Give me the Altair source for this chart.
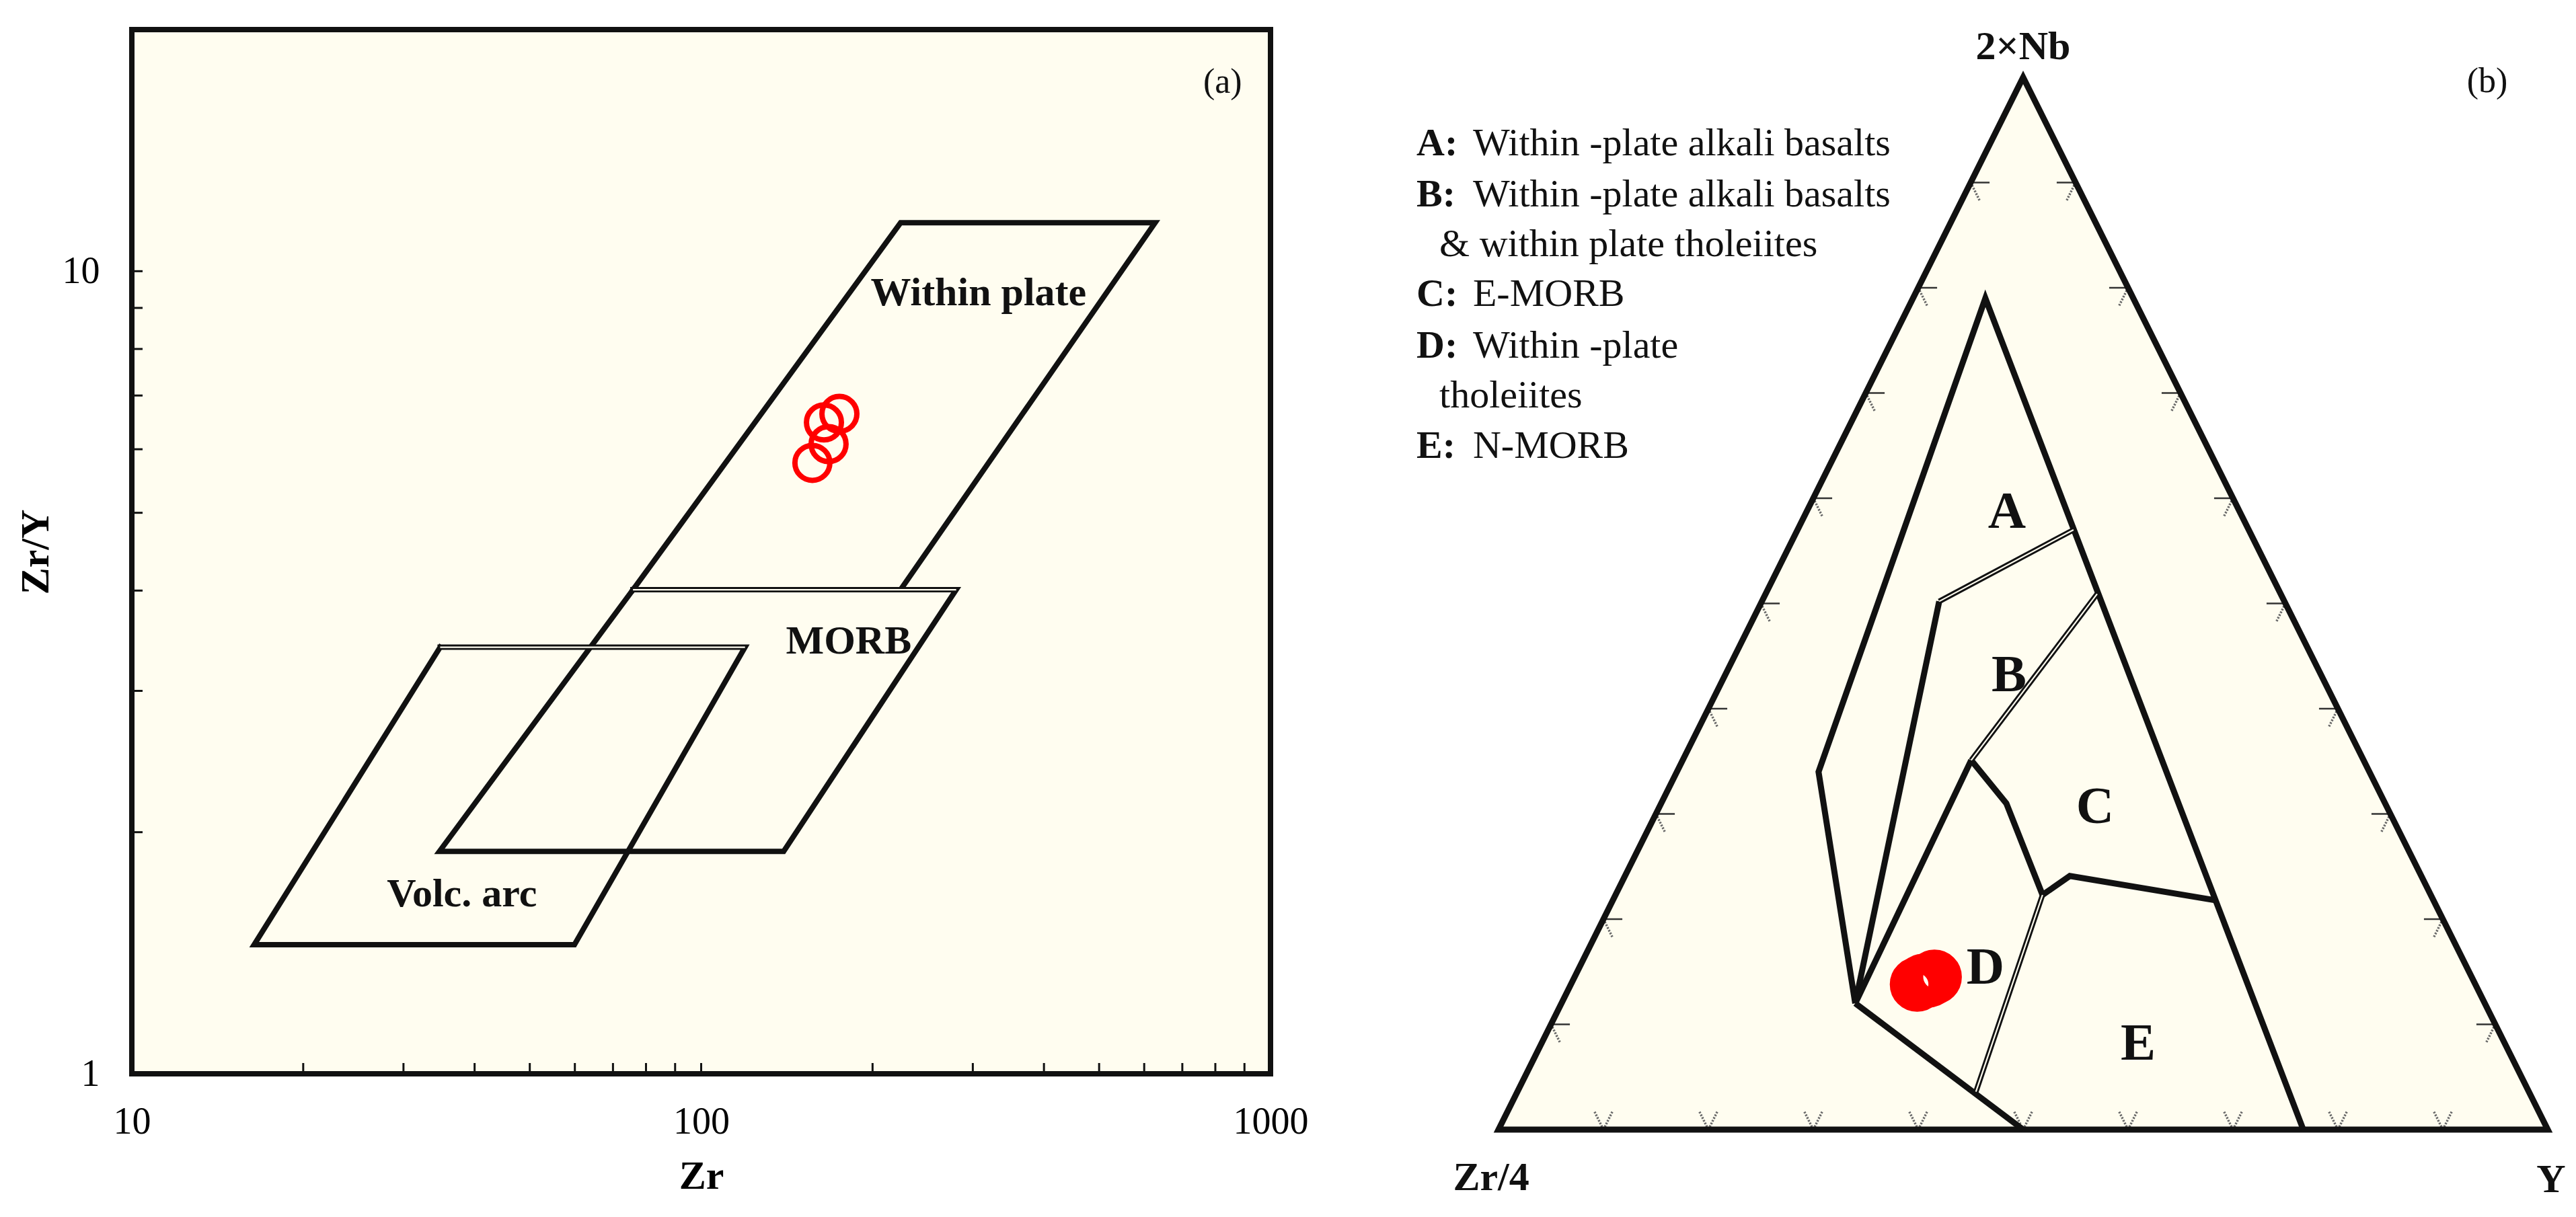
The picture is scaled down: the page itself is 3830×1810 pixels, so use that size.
import altair as alt
import pandas as pd

CREAM = "#FFFDF0"
INK = "#111111"
SERIF = "Liberation Serif"

# ---------------- Panel (a): Zr/Y vs Zr (log-log) ----------------
within_zr = [75.9, 224.0, 627.0, 224.0]
within_zry = [4.01, 11.49, 11.49, 4.01]
morb_zr = [75.9, 280.5, 139.6, 34.7]
morb_zry = [4.01, 4.01, 1.893, 1.893]
arc_zr = [34.8, 119.4, 59.9, 16.4]
arc_zry = [3.40, 3.40, 1.448, 1.448]

sample_zr = [174.9, 164.3, 167.4, 156.8]
sample_zry = [6.64, 6.48, 6.09, 5.77]

field_names_a = ["Within plate", "MORB", "Volc. arc"]
field_label_zr = [307.0, 181.6, 38.0]
field_label_zry = [9.39, 3.46, 1.673]

x_labels_a = [10, 100, 1000]
y_labels_a = [1, 10]
x_minor_a = [20, 30, 40, 50, 60, 70, 80, 90, 100, 200, 300, 400, 500, 600, 700, 800, 900]
y_minor_a = [2, 3, 4, 5, 6, 7, 8, 9, 10]

# ---------------- Panel (b): 2Nb - Zr/4 - Y ternary ----------------
node_names = ["P1", "P2", "P3", "P4", "P5", "P6", "P7", "P8", "P9", "P10", "P11", "P12", "P13", "P14"]
node_nb2 = [79.0, 34.0, 12.0, 0.0, 0.0, 57.0, 50.2, 50.9, 35.1, 31.0, 22.3, 24.1, 21.8, 3.6]
node_zr4 = [14.1, 52.5, 60.0, 50.0, 23.3, 16.7, 32.9, 17.5, 37.4, 36.1, 37.0, 33.5, 20.8, 52.7]
node_y = [6.9, 13.5, 28.0, 50.0, 76.7, 26.3, 16.9, 31.6, 27.5, 32.9, 40.7, 42.4, 57.4, 43.7]

thick_paths = [
    ["P3", "P2", "P1", "P5"],
    ["P7", "P3"],
    ["P9", "P3"],
    ["P9", "P10", "P11", "P12", "P13"],
    ["P3", "P4"],
]
double_paths = [["P6", "P7"], ["P8", "P9"], ["P11", "P14"]]

sample_nb2 = [13.8, 14.1, 14.2, 14.5]
sample_zr4 = [53.2, 52.5, 51.9, 51.2]
sample_y = [33.0, 33.4, 33.9, 34.3]

field_letters_b = ["A", "B", "C", "D", "E"]
field_letter_u = [0.4846, 0.4865, 0.5686, 0.4641, 0.6096]
field_letter_v = [0.5866, 0.4313, 0.3061, 0.1534, 0.0812]

legend_keys = ["A:", "B:", "C:", "D:", "E:"]
legend_key_v = [0.9259, 0.8773, 0.7827, 0.7335, 0.6383]
legend_lines = ["Within -plate alkali basalts", "Within -plate alkali basalts",
                "& within plate tholeiites", "E-MORB", "Within -plate", "tholeiites", "N-MORB"]
legend_line_v = [0.9259, 0.8773, 0.8300, 0.7827, 0.7335, 0.6863, 0.6383]
legend_line_indent = [False, False, True, False, False, True, False]

vertex_names = ["2×Nb", "Zr/4", "Y"]
vertex_u = [0.5, -0.007, 1.0032]
vertex_v = [1.0288, -0.046, -0.048]

tick_fracs = [0.1, 0.2, 0.3, 0.4, 0.5, 0.6, 0.7, 0.8, 0.9]
TICK_LEN = 0.018


def tern(nb2, zr4, y):
    s = nb2 + zr4 + y
    a = nb2 / s
    c = y / s
    return c + a / 2.0, a


# ---------------- scales (pixel layout) ----------------
A_W, A_H = 1693, 1553
XA = alt.Scale(type="log", domain=[10, 1000], range=[0, A_W], nice=False)
YA = alt.Scale(type="log", domain=[1, 20], range=[A_H, 0], nice=False)
XB = alt.Scale(domain=[0, 1], range=[2032, 3592], nice=False, zero=False)
YB = alt.Scale(domain=[0, 1], range=[1636, 71], nice=False, zero=False)


def xa(f):
    return alt.X(f"{f}:Q", scale=XA, axis=None)


def ya(f):
    return alt.Y(f"{f}:Q", scale=YA, axis=None)


def xb(f):
    return alt.X(f"{f}:Q", scale=XB, axis=None)


def yb(f):
    return alt.Y(f"{f}:Q", scale=YB, axis=None)


# ---------------- Panel (a) layers ----------------
frame_df = pd.DataFrame({"x": [10], "x2": [1000], "y": [1], "y2": [20]})
frame = alt.Chart(frame_df).mark_rect(
    fill=CREAM, stroke=INK, strokeWidth=8, strokeJoin="miter"
).encode(
    x=alt.X("x:Q", scale=XA, axis=alt.Axis(
        values=x_labels_a, format="d", ticks=False, domain=False, grid=False,
        labelFont=SERIF, labelFontSize=56, labelColor="black", labelPadding=44,
        labelFlush=False, labelOverlap=False,
        title="Zr", titleFont=SERIF, titleFontSize=60, titleFontWeight="bold",
        titleColor="black", titlePadding=24)),
    x2="x2",
    y=alt.Y("y:Q", scale=YA, axis=alt.Axis(
        values=y_labels_a, format="d", ticks=False, domain=False, grid=False,
        labelFont=SERIF, labelFontSize=56, labelColor="black", labelPadding=48,
        labelFlush=False, labelOverlap=False,
        title="Zr/Y", titleFont=SERIF, titleFontSize=60, titleFontWeight="bold",
        titleColor="black", titlePadding=8)),
    y2="y2",
)

xt_df = pd.DataFrame({"v": x_minor_a})
x_ticks = alt.Chart(xt_df).mark_rule(color=INK, strokeWidth=3).encode(
    x=xa("v"), y=alt.value(A_H), y2=alt.value(A_H - 16))
yt_df = pd.DataFrame({"v": y_minor_a})
y_ticks = alt.Chart(yt_df).mark_rule(color=INK, strokeWidth=3).encode(
    y=ya("v"), x=alt.value(0), x2=alt.value(16))

rows = []
for name, zs, rs in [("Within plate", within_zr, within_zry),
                     ("MORB", morb_zr, morb_zry),
                     ("Volc. arc", arc_zr, arc_zry)]:
    for i, (z, r) in enumerate(list(zip(zs, rs)) + [(zs[0], rs[0])]):
        rows.append({"poly": name, "i": i, "zr": z, "zry": r})
poly_df = pd.DataFrame(rows)
polys_a = alt.Chart(poly_df).mark_line(
    color=INK, strokeWidth=8, strokeJoin="miter", strokeCap="square"
).encode(x=xa("zr"), y=ya("zry"), detail="poly:N", order="i:Q")

dbl_rows = []
for name, zs, rs in [("MORB", morb_zr, morb_zry), ("Volc. arc", arc_zr, arc_zry)]:
    dbl_rows.append({"seg": name, "i": 0, "zr": zs[0], "zry": rs[0]})
    dbl_rows.append({"seg": name, "i": 1, "zr": zs[1], "zry": rs[1]})
dbl_a_df = pd.DataFrame(dbl_rows)
dbl_a = alt.Chart(dbl_a_df).mark_line(color=CREAM, strokeWidth=2.2).encode(
    x=xa("zr"), y=ya("zry"), detail="seg:N", order="i:Q")

samp_a_df = pd.DataFrame({"zr": sample_zr, "zry": sample_zry})
samples_a = alt.Chart(samp_a_df).mark_point(
    shape="circle", filled=False, color="#FF0000", strokeWidth=8, size=2700, opacity=1
).encode(x=xa("zr"), y=ya("zry"))

lab_a_df = pd.DataFrame({"zr": field_label_zr, "zry": field_label_zry, "t": field_names_a})
labels_a = alt.Chart(lab_a_df).mark_text(
    font=SERIF, fontSize=60, fontWeight="bold", color=INK, align="center", baseline="middle"
).encode(x=xa("zr"), y=ya("zry"), text="t:N")

tag_a_df = pd.DataFrame({"zr": [824], "zry": [17.2], "t": ["(a)"]})
tag_a = alt.Chart(tag_a_df).mark_text(
    font=SERIF, fontSize=52, color=INK, align="center", baseline="middle"
).encode(x=xa("zr"), y=ya("zry"), text="t:N")

# ---------------- Panel (b) layers ----------------
tri_fill_df = pd.DataFrame({"u": [0.0, 0.5, 1.0], "v": [0.0, 1.0, 0.0], "v0": [0.0, 0.0, 0.0]})
tri_fill = alt.Chart(tri_fill_df).mark_area(color=CREAM, opacity=1).encode(
    x=xb("u"), y=yb("v"), y2="v0")

tick_rows = []
L = TICK_LEN
for f in tick_fracs:
    # left side (Y = 0)
    u0, v0 = tern(f, 1 - f, 0)
    u1, v1 = tern(f, 1 - f - L, L)
    tick_rows.append({"u": u0, "v": v0, "u2": u1, "v2": v1, "k": "solid"})
    u1, v1 = tern(f - L, 1 - f, L)
    tick_rows.append({"u": u0, "v": v0, "u2": u1, "v2": v1, "k": "hatch"})
    # base (2Nb = 0)
    u0, v0 = tern(0, 1 - f, f)
    u1, v1 = tern(L, 1 - f - L, f)
    tick_rows.append({"u": u0, "v": v0, "u2": u1, "v2": v1, "k": "hatch"})
    u1, v1 = tern(L, 1 - f, f - L)
    tick_rows.append({"u": u0, "v": v0, "u2": u1, "v2": v1, "k": "hatch"})
    # right side (Zr/4 = 0)
    u0, v0 = tern(f, 0, 1 - f)
    u1, v1 = tern(f, L, 1 - f - L)
    tick_rows.append({"u": u0, "v": v0, "u2": u1, "v2": v1, "k": "solid"})
    u1, v1 = tern(f - L, L, 1 - f)
    tick_rows.append({"u": u0, "v": v0, "u2": u1, "v2": v1, "k": "hatch"})
tick_df = pd.DataFrame(tick_rows)
ticks_solid = alt.Chart(tick_df[tick_df.k == "solid"]).mark_rule(
    color="#333333", strokeWidth=2.5).encode(x=xb("u"), y=yb("v"), x2="u2", y2="v2")
ticks_hatch = alt.Chart(tick_df[tick_df.k == "hatch"]).mark_rule(
    color="#6a6a6a", strokeWidth=3.5, strokeDash=[2.5, 2]).encode(
    x=xb("u"), y=yb("v"), x2="u2", y2="v2")

tri_df = pd.DataFrame({"u": [0.0, 0.5, 1.0, 0.0, 0.5], "v": [0.0, 1.0, 0.0, 0.0, 1.0],
                       "i": [0, 1, 2, 3, 4]})
tri_outline = alt.Chart(tri_df).mark_line(
    color=INK, strokeWidth=9, strokeJoin="miter").encode(
    x=xb("u"), y=yb("v"), order="i:Q")

nodes = {n: tern(a, b, c) for n, a, b, c in zip(node_names, node_nb2, node_zr4, node_y)}


def path_df(paths):
    rr = []
    for pi, p in enumerate(paths):
        for j, n in enumerate(p):
            rr.append({"seg": pi, "i": j, "u": nodes[n][0], "v": nodes[n][1]})
    return pd.DataFrame(rr)


thick_b = alt.Chart(path_df(thick_paths)).mark_line(
    color=INK, strokeWidth=9, strokeJoin="miter").encode(
    x=xb("u"), y=yb("v"), detail="seg:N", order="i:Q")
dbl_df = path_df(double_paths)
dbl_b_black = alt.Chart(dbl_df).mark_line(color=INK, strokeWidth=8).encode(
    x=xb("u"), y=yb("v"), detail="seg:N", order="i:Q")
dbl_b_cream = alt.Chart(dbl_df).mark_line(color=CREAM, strokeWidth=2.2).encode(
    x=xb("u"), y=yb("v"), detail="seg:N", order="i:Q")

samp_b = [tern(a, b, c) for a, b, c in zip(sample_nb2, sample_zr4, sample_y)]
samp_b_df = pd.DataFrame({"u": [p[0] for p in samp_b], "v": [p[1] for p in samp_b]})
samples_b = alt.Chart(samp_b_df).mark_point(
    shape="circle", filled=False, color="#FF0000", strokeWidth=24, size=3300, opacity=1
).encode(x=xb("u"), y=yb("v"))

letters_df = pd.DataFrame({"u": field_letter_u, "v": field_letter_v, "t": field_letters_b})
letters_b = alt.Chart(letters_df).mark_text(
    font=SERIF, fontSize=78, fontWeight="bold", color=INK, align="center", baseline="middle"
).encode(x=xb("u"), y=yb("v"), text="t:N")

key_df = pd.DataFrame({"u": [-0.0782] * len(legend_keys), "v": legend_key_v, "t": legend_keys})
legend_keys_l = alt.Chart(key_df).mark_text(
    font=SERIF, fontSize=58, fontWeight="bold", color=INK, align="left", baseline="alphabetic"
).encode(x=xb("u"), y=yb("v"), text="t:N")

line_df = pd.DataFrame({"u": [-0.0564 if ind else -0.0244 for ind in legend_line_indent],
                        "v": legend_line_v, "t": legend_lines})
legend_lines_l = alt.Chart(line_df).mark_text(
    font=SERIF, fontSize=58, color=INK, align="left", baseline="alphabetic"
).encode(x=xb("u"), y=yb("v"), text="t:N")

vert_df = pd.DataFrame({"u": vertex_u, "v": vertex_v, "t": vertex_names})
vertex_l = alt.Chart(vert_df).mark_text(
    font=SERIF, fontSize=60, fontWeight="bold", color=INK, align="center", baseline="middle"
).encode(x=xb("u"), y=yb("v"), text="t:N")

tag_b_df = pd.DataFrame({"u": [0.9423], "v": [0.9962], "t": ["(b)"]})
tag_b = alt.Chart(tag_b_df).mark_text(
    font=SERIF, fontSize=52, color=INK, align="center", baseline="middle"
).encode(x=xb("u"), y=yb("v"), text="t:N")

chart = alt.layer(
    frame, x_ticks, y_ticks, polys_a, dbl_a, samples_a, labels_a, tag_a,
    tri_fill, ticks_hatch, ticks_solid, tri_outline, thick_b, dbl_b_black, dbl_b_cream,
    samples_b, letters_b, legend_keys_l, legend_lines_l, vertex_l, tag_b,
).resolve_scale(x="independent", y="independent").properties(
    width=3600, height=A_H,
    autosize=alt.AutoSizeParams(type="none"),
    padding={"left": 188, "top": 36, "right": 26, "bottom": 200},
    view=alt.ViewBackground(stroke="transparent", strokeOpacity=0, strokeWidth=0),
).configure_view(stroke="transparent", strokeOpacity=0, strokeWidth=0).configure(
    background="white")

chart.save("out.html", embed_options={"renderer": "svg", "actions": False})
